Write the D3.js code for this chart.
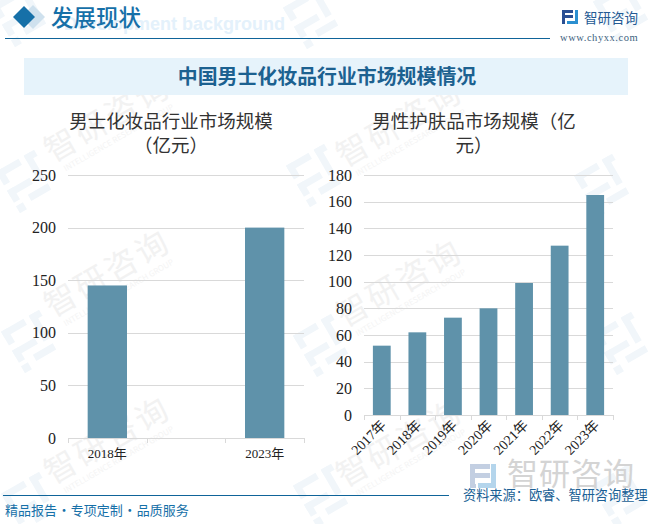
<!DOCTYPE html>
<html><head><meta charset="utf-8">
<script src="https://cdn.jsdelivr.net/npm/d3@7/dist/d3.min.js"></script>
<style>html,body{margin:0;padding:0;background:#fff}svg{display:block}</style>
</head><body><svg id="c" width="652" height="524"></svg>
<script>
const leftCategories=["2018年","","2023年"];
const leftValues=[145,null,200];
const leftTicks=[0,50,100,150,200,250];
const rightCategories=["2017年","2018年","2019年","2020年","2021年","2022年","2023年"];
const rightValues=[52,62,73,80,99,127,165];
const rightTicks=[0,20,40,60,80,100,120,140,160,180];
const pageTitle="中国男士化妆品行业市场规模情况";
const leftTitle=["男士化妆品行业市场规模","（亿元）"];
const rightTitle=["男性护肤品市场规模（亿","元）"];

const SERIF='"Liberation Serif","Noto Sans CJK SC",serif';
const SANS='"Noto Sans CJK SC",sans-serif';
const svg=d3.select("#c");

// ---- watermark
const wm=svg.append("g");
function wmLogo(g,cx,cy,col,s){
  const n=g.append("g").attr("transform",`translate(${cx},${cy}) rotate(-30) scale(${s})`).attr("fill",col);
  [[-22,-20,26,7],[-22,-20,7,16],[-22,2,26,7],[-22,2,7,14],[10,-20,7,30],[-6,16,23,7],[10,-20,12,7],[-22,20,8,8]].forEach(r=>
    n.append("rect").attr("x",r[0]).attr("y",r[1]).attr("width",r[2]).attr("height",r[3]));
}
[[20,12],[312,14],[622,8],[25,178],[315,172],[603,182],[30,338],[322,342],[622,340],[30,500],[322,492],[620,492]]
  .forEach(p=>wmLogo(wm,p[0],p[1],"#f1f6fa",1));
[[113,128],[405,133],[113,283],[405,293],[113,450],[405,453]].forEach(p=>{
  const g=wm.append("g").attr("transform",`translate(${p[0]},${p[1]}) rotate(-30)`);
  g.append("text").attr("text-anchor","middle").attr("font-family",SANS).attr("font-size",32)
   .attr("letter-spacing",3).attr("fill","#f2f2f2").text("智研咨询");
  g.append("text").attr("text-anchor","middle").attr("y",14).attr("font-family",SANS).attr("font-size",8)
   .attr("fill","#f4f4f4").text("INTELLIGENCE RESEARCH GROUP");
});

// ---- header
svg.append("text").attr("x",64).attr("y",30).attr("font-family",'Liberation Sans,sans-serif').attr("font-weight",700)
  .attr("font-size",18).attr("fill","#e4f1fb").text("Development background");
svg.append("path").attr("d","M33,5 L45,17 L33,29 L21,17 Z").attr("fill","#cfe1ee");
svg.append("path").attr("d","M24,6 L35,17 L24,28 L13,17 Z").attr("fill","#1670a8");
svg.append("text").attr("x",51).attr("y",26).attr("font-family",SANS).attr("font-weight",500).attr("font-size",22.5)
  .attr("fill","#1670a8").text("发展现状");
svg.append("line").attr("x1",5).attr("x2",550).attr("y1",38.5).attr("y2",38.5).attr("stroke","#0f6499").attr("stroke-width",1.2);

// top right brand
const brand=svg.append("g").attr("fill","#2a4f93");
[[562,10,11,3],[562,10,3,8],[562,15,11,3],[562,18,3,6],[569,21,7,3]].forEach(r=>brand.append("rect").attr("x",r[0]).attr("y",r[1]).attr("width",r[2]).attr("height",r[3]));
[[575,10,3,14],[567,21,11,3]].forEach(r=>brand.append("rect").attr("x",r[0]).attr("y",r[1]).attr("width",r[2]).attr("height",r[3]).attr("fill","#2b8fd0"));
svg.append("text").attr("x",584).attr("y",23).attr("font-family",SANS).attr("font-size",13.5).attr("fill","#245a94").text("智研咨询");
svg.append("text").attr("x",560).attr("y",41).attr("font-family",SERIF).attr("font-size",10.5).attr("letter-spacing",0.55).attr("fill","#3d5f80").text("www.chyxx.com");

// banner
svg.append("rect").attr("x",24).attr("y",58).attr("width",604).attr("height",37).attr("fill","#e6f3fb");
svg.append("text").attr("x",327).attr("y",84).attr("text-anchor","middle").attr("font-family",SANS).attr("font-weight",700)
  .attr("font-size",19.9).attr("fill","#1c6190").text(pageTitle);

// ---- charts
function chart(cfg){
  const x=d3.scaleBand().domain(d3.range(cfg.cats.length)).range([cfg.x0,cfg.x1]).paddingInner(.5).paddingOuter(.25);
  const y=d3.scaleLinear().domain([0,d3.max(cfg.ticks)]).range([cfg.y0,cfg.y1]);
  const g=svg.append("g");
  g.append("g").selectAll("line").data(cfg.ticks.filter(t=>t>0)).join("line")
    .attr("x1",cfg.x0).attr("x2",cfg.x1).attr("y1",d=>Math.round(y(d))+.5).attr("y2",d=>Math.round(y(d))+.5)
    .attr("stroke","#d9d9d9").attr("stroke-width",1);
  g.append("g").selectAll("rect").data(cfg.vals.map((v,i)=>({v,i})).filter(d=>d.v!=null)).join("rect")
    .attr("x",d=>x(d.i)).attr("width",x.bandwidth()).attr("y",d=>y(d.v)).attr("height",d=>cfg.y0-y(d.v)).attr("fill","#5f92aa");
  const ya=g.append("g").attr("transform",`translate(${cfg.x0},0)`).call(d3.axisLeft(y).tickValues(cfg.ticks).tickSize(0).tickPadding(12));
  ya.select(".domain").remove();
  ya.selectAll("text").attr("font-family",SERIF).attr("font-size",16).attr("fill","#222");
  const step=x.step();
  const edges=cfg.cats.map((c,i)=>cfg.x0+i*step).concat([cfg.x1]);
  const xg=g.append("g");
  xg.append("line").attr("x1",cfg.x0).attr("x2",cfg.x1).attr("y1",cfg.y0+.5).attr("y2",cfg.y0+.5).attr("stroke","#d9d9d9");
  xg.selectAll(".t").data(edges).join("line").attr("class","t").attr("x1",d=>Math.round(d)+.5).attr("x2",d=>Math.round(d)+.5)
    .attr("y1",cfg.y0).attr("y2",cfg.y0+5).attr("stroke","#d9d9d9");
  const labels=xg.selectAll("text").data(cfg.cats).join("text").attr("font-family",SERIF).attr("font-size",cfg.lsize).attr("fill","#222").text(d=>d);
  if(cfg.rot){
    labels.attr("text-anchor","end").attr("transform",(d,i)=>`translate(${x(i)+x.bandwidth()/2+5},${cfg.y0+11}) rotate(-45)`);
  }else{
    labels.attr("text-anchor","middle").attr("x",(d,i)=>x(i)+x.bandwidth()/2).attr("y",cfg.y0+20);
  }
  cfg.title.forEach((t,i)=>svg.append("text").attr("x",cfg.tx).attr("y",128+i*24).attr("text-anchor","middle")
    .attr("font-family",SANS).attr("font-size",18.5).attr("fill","#333").text(t));
}
chart({cats:leftCategories,vals:leftValues,ticks:leftTicks,x0:68,x1:304,y0:438,y1:175,lsize:13,rot:false,title:leftTitle,tx:171});
chart({cats:rightCategories,vals:rightValues,ticks:rightTicks,x0:364,x1:613,y0:415,y1:175,lsize:14,rot:true,title:rightTitle,tx:474});

// ---- footer
[[470,464,20,5],[470,464,5,14],[470,473,20,5],[470,473,5,14],[470,484,6,4]].forEach(r=>svg.append("rect").attr("x",r[0]).attr("y",r[1]).attr("width",r[2]).attr("height",r[3]).attr("fill","#c3cfe2"));
[[491,464,5,24],[478,483,18,5]].forEach(r=>svg.append("rect").attr("x",r[0]).attr("y",r[1]).attr("width",r[2]).attr("height",r[3]).attr("fill","#b4d5ec"));
svg.append("text").attr("x",507).attr("y",485).attr("font-family",SANS).attr("font-size",31).attr("letter-spacing",1).attr("fill","#d4d4d4").text("智研咨询");
svg.append("line").attr("x1",3).attr("x2",449).attr("y1",495.5).attr("y2",495.5).attr("stroke","#0f6499").attr("stroke-width",1.2);
svg.append("text").attr("x",463).attr("y",500).attr("font-family",SANS).attr("font-size",13.2).attr("fill","#1a5f95").text("资料来源：欧睿、智研咨询整理");
svg.append("text").attr("x",5).attr("y",515).attr("font-family",SANS).attr("font-size",13).attr("word-spacing",-2.5).attr("fill","#1670a8").text("精品报告 · 专项定制 · 品质服务");
</script></body></html>
